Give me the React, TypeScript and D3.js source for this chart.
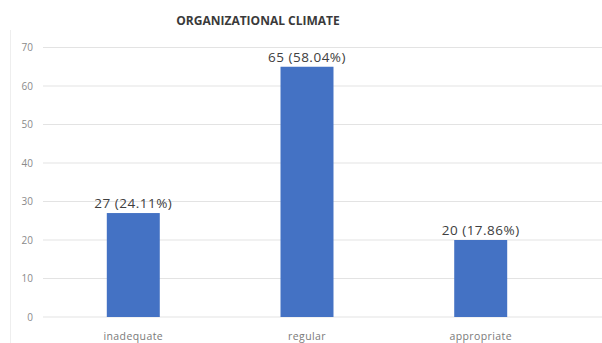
import React from "react";
import * as d3 from "d3";

const categories = ["inadequate", "regular", "appropriate"];
const counts = [27, 65, 20];
const percents = ["24.11%", "58.04%", "17.86%"];
const yTicks = [0, 10, 20, 30, 40, 50, 60, 70];
const title = "ORGANIZATIONAL CLIMATE";

const W = 602;
const H = 343;

export default function App() {
  const x = d3.scaleBand<string>().domain(categories).range([46, 568]).paddingInner(0.695).paddingOuter(0.35);
  const y = d3.scaleLinear().domain([0, 70]).range([317, 47.5]);
  const font = "'Open Sans', 'Liberation Sans', sans-serif";

  return (
    <svg
      width={W}
      height={H}
      style={{ position: "absolute", left: 0, top: 0, background: "#fff" }}
      fontFamily={font}
    >
      <line x1={10.5} x2={10.5} y1={30} y2={H} stroke="#eeeeee" />
      <text x={258} y={25} textAnchor="middle" fontSize={12} fontWeight={700} fill="#3a3a3a">
        {title}
      </text>
      {yTicks.map((t) => (
        <g key={t}>
          <line x1={43} x2={602} y1={y(t)} y2={y(t)} stroke="#e3e3e3" strokeWidth={1} />
          <text x={33} y={y(t)} dy="0.35em" textAnchor="end" fontSize={10} fill="#8a8a8a">
            {t}
          </text>
        </g>
      ))}
      {categories.map((c, i) => {
        const bx = x(c)!;
        const bw = x.bandwidth();
        return (
          <g key={c}>
            <rect x={bx} y={y(counts[i])} width={bw} height={y(0) - y(counts[i])} fill="#4472C4" />
            <text
              x={bx + bw / 2}
              y={y(counts[i]) - 5}
              textAnchor="middle"
              fontSize={13.5}
              letterSpacing={0.5}
              fill="#404040"
            >
              {`${counts[i]} (${percents[i]})`}
            </text>
            <text
              x={bx + bw / 2}
              y={340}
              textAnchor="middle"
              fontSize={10.5}
              letterSpacing={0.4}
              fill="#7a7a7a"
            >
              {c}
            </text>
          </g>
        );
      })}
    </svg>
  );
}
